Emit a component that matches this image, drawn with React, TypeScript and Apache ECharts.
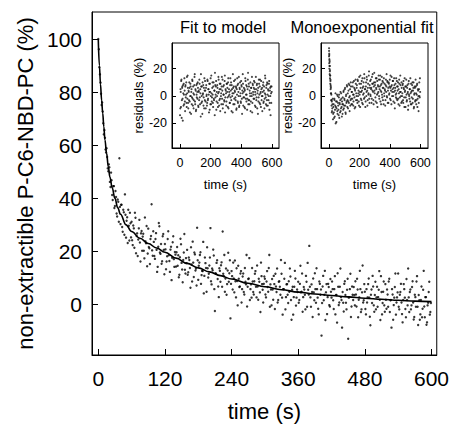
import React, { useEffect, useRef } from "react";
import * as echarts from "echarts";

// ---- tick labels ----
const MAIN_X_TICKS = [0, 120, 240, 360, 480, 600];
const MAIN_Y_TICKS = [0, 20, 40, 60, 80, 100];
const INSET_X_TICKS = [0, 200, 400, 600];
const INSET_Y_TICKS = [-20, 0, 20];

// ---- fitted curve ----
const FIT_T = [0, 2, 4, 6, 8, 10, 12, 15, 18, 21, 25, 30, 35, 40, 50, 60, 75, 90, 105, 120, 140, 160, 180, 200, 220, 240, 270, 300, 330, 360, 390, 420, 450, 480, 510, 540, 570, 600];
const FIT_V = [100, 90, 83, 77, 72, 67, 62, 57, 52, 48, 44, 40, 36.5, 34, 30, 27.5, 25, 23, 21.3, 19.7, 17.5, 15.5, 13.8, 12.3, 10.9, 9.6, 8, 6.7, 5.6, 4.7, 4, 3.4, 2.9, 2.4, 2, 1.6, 1.3, 1.1];

// ---- measured points, sampled every 2 s (even seconds, then odd seconds) ----
const MAIN_DT = 2;
const MAIN_EVEN = [
  100, 89.4, 83.6, 75.2, 72.7, 64.1, 62.8, 57.3, 55.6, 50.2,
  51.7, 44.3, 46.8, 39.4, 44.6, 37.1, 40.5, 33.2, 38.7, 55.1,
  30.3, 37.6, 27.4, 34.8, 41.5, 25.2, 32.9, 35.7, 24.1, 30.6,
  31.2, 22.4, 28.7, 34.6, 19.3, 26.8, 24.5, 31.9, 16.2, 27.7,
  25.6, 20.3, 32.8, 23.1, 14.4, 28.6, 21.2, 24.7, 37.8, 18.4,
  23.6, 17.2, 26.9, 12.3, 21.8, 29.5, 19.1, 15.4, 25.7, 20.6,
  22.8, 13.3, 18.2, 27.6, 16.4, 20.7, 9.2, 23.5, 17.1, 19.8,
  14.3, 21.7, 18.6, 11.2, 24.8, 15.7, 8.4, 19.6, 13.1, 17.5,
  20.6, 12.2, 16.8, 6.3, 15.1, 23.7, 10.4, 18.9, 13.6, 28.9,
  9.3, 15.8, 19.7, 11.1, 12.6, 4.2, 17.7, 13.8, 21.6, 10.2,
  14.7, 28.8, 7.6, 12.9, 18.5, -2.4, 11.6, 16.7, 6.8, 13.7,
  8.6, 15.9, 27.5, 10.7, 4.8, 13.6, 7.7, 19.5, 11.8, -5.2,
  12.6, 5.7, 9.8, 16.6, 2.7, 8.9, 14.6, 6.6, 11.7, 0.8,
  10.6, 4.7, 13.8, 7.6, -0.7, 9.6, 17.5, 5.8, 2.6, 8.7,
  3.8, 11.6, 6.7, 14.7, 1.8, 8.6, -2.8, 10.7, 5.6, 7.8,
  9.7, 2.7, 12.6, 4.8, 18.7, 7.6, -0.3, 5.7, 10.8, -1.7,
  6.8, 13.6, 1.7, 8.8, 3.7, 11.6, -3.8, 5.8, 15.7, 2.8,
  7.7, 0.6, 4.8, 10.6, -5.7, 6.7, 2.8, 12.7, -0.4, 5.7,
  8.6, 1.7, 14.6, 4.8, -2.7, 6.6, 3.7, 10.8, -0.8, 5.6,
  22.1, 2.7, 7.6, -4.7, 4.6, 11.8, 0.7, 5.8, -1.6, 8.7,
  3.7, -11.7, 6.8, 1.6, 12.7, 4.6, -3.6, 7.8, -0.2, 9.6,
  2.6, 5.8, -1.7, 10.7, 3.6, -6.8, 6.7, 0.8, 13.6, 1.7,
  4.7, -2.6, 8.8, 0.7, 5.6, -12.9, 2.8, 11.6, -0.7, 3.7,
  6.6, -0.3, 3.8, 9.7, -4.8, 2.7, 5.8, -1.8, 14.7, 1.6,
  4.8, -3.7, 0.8, 7.7, 2.6, -7.8, 5.7, 10.8, -0.3, 3.6,
  -1.8, 6.7, 2.8, 12.6, -5.8, 4.7, 0.6, 8.7, -2.7, 1.8,
  5.7, -0.8, 9.7, 1.6, -8.7, 3.8, -0.2, 6.6, -3.8, 2.7,
  11.7, -1.8, 4.7, 0.8, -6.7, 7.7, 2.6, -4.8, 1.7, 13.6,
  -2.8, 5.7, -0.3, 8.8, -5.6, 3.7, -0.8, 10.7, -7.7, 1.6,
  -3.7, 6.8, -1.6, 12.7, -4.8, 2.8, -6.7, 0.7, 8.6, -2.8,
];
const MAIN_ODD = [
  96.2, 86.7, 79.4, 76.1, 68.3, 65.7, 58.4, 58.9, 51.3, 52.8,
  46.2, 49.7, 41.3, 44.6, 36.4, 42.8, 34.3, 39.6, 31.2, 36.8,
  37.6, 29.2, 35.7, 26.3, 33.8, 31.6, 23.2, 29.7, 34.6, 25.3,
  24.2, 29.8, 21.4, 32.7, 25.8, 18.3, 28.7, 23.4, 26.8, 20.3,
  26.7, 17.4, 23.8, 29.6, 19.2, 21.7, 15.3, 25.8, 20.4, 27.6,
  18.3, 24.7, 20.6, 14.2, 30.7, 19.6, 22.8, 16.3, 26.6, 11.4,
  20.8, 16.2, 24.7, 18.6, 12.3, 21.8, 17.6, 25.7, 14.2, 18.8,
  19.7, 14.6, 10.3, 17.8, 22.7, 13.2, 16.8, 26.6, 11.7, 15.6,
  11.2, 17.7, 13.8, 21.6, 8.7, 15.8, 19.6, 12.8, 7.2, 16.7,
  14.6, 18.7, 7.8, 12.7, 23.6, 10.8, 15.6, 4.8, 13.7, 11.6,
  17.7, 8.8, 13.6, 20.7, 5.8, 11.8, 15.7, 9.6, 2.8, 12.7,
  14.8, 6.7, 11.6, 18.7, 9.8, 3.7, 12.8, 8.6, 16.7, 7.8,
  10.7, 15.8, 4.6, 8.8, 13.7, -0.3, 9.7, 6.8, 12.6, 5.8,
  11.7, 3.8, 8.6, 18.7, 6.7, 9.8, 1.7, 7.6, 13.8, 4.7,
  8.8, 12.6, 2.7, 6.8, 9.7, 4.6, 15.8, 7.7, 0.8, 10.6,
  3.8, 8.7, 6.6, 13.8, -0.8, 5.7, 9.6, 1.8, 7.7, 11.6,
  4.7, 0.8, 8.6, 6.7, 16.8, 2.6, 5.8, 9.7, -1.8, 7.6,
  3.7, 8.8, 13.6, 1.7, 5.6, -3.8, 6.7, 9.8, 2.6, 4.7,
  0.7, 7.8, 4.6, 11.7, 2.8, 5.7, -1.8, 8.6, 15.7, 3.8,
  6.7, -0.8, 4.7, 9.8, 1.6, 5.8, 13.7, 2.6, -3.7, 7.8,
  5.7, 0.6, 10.8, 3.7, -5.8, 7.7, 2.8, 6.6, -0.7, 4.8,
  8.7, 1.6, 5.8, -3.7, 3.6, 11.8, -0.2, 6.7, 2.8, -8.7,
  0.7, 7.8, 3.6, -1.8, 9.7, 2.6, 5.8, -4.7, 6.8, 1.7,
  3.6, 8.8, -0.7, 5.7, 1.8, 12.7, -2.8, 4.6, 0.8, 7.7,
  -1.7, 5.8, 2.7, 9.8, -4.6, 3.7, 0.6, 6.8, -2.7, 8.6,
  2.7, -0.8, 5.6, 1.8, 10.7, -3.7, 4.8, -0.3, 7.7, -1.6,
  3.8, 8.7, -2.8, 1.7, 5.8, -5.7, 2.6, 11.7, 0.8, 4.6,
  -0.8, 3.7, 7.8, -3.6, 1.7, 5.8, -1.7, 9.6, -0.3, 2.7,
  4.7, -1.8, 6.6, 0.8, -4.7, 2.8, 8.7, -0.8, 3.6, -5.7,
  1.7, -4.8, 5.6, -0.7, 2.8, -7.6, -0.3, 4.7, -3.8, 0.6,
];

// ---- residuals (insets), sampled every 3 s: set A at 0,3,6..., set B at 1.5,4.5,... ----
const INSET_DT = 3;
const MODEL_RESID = [
  -14, 5, -8, 12, -3, 7, -18, 2, 9, -6,
  4, -11, 8, 1, -5, 14, -2, 6, -9, 3,
  10, -4, 0, 7, -13, 5, -1, 11, -7, 2,
  -3, 8, 16, -6, 4, -10, 1, 9, -2, 6,
  -8, 3, 12, -1, 5, -15, 7, 0, -4, 10,
  2, -7, 6, 13, -3, 4, -9, 8, 1, -5,
  11, -2, 5, -12, 3, 9, -6, 0, 15, -4,
  6, 1, -8, 10, -3, 4, 17, -1, 7, -10,
  3, 8, -5, 2, 12, -7, 5, -2, 9, 0,
  -6, 14, 4, -9, 7, 1, -3, 11, -12, 5,
  2, -4, 9, 6, -8, 13, 0, 3, -5, 8,
  -1, 10, -11, 5, 2, 16, -6, 7, -2, 4,
  12, -3, 6, -9, 1, 8, -5, 3, 14, -7,
  5, 0, -4, 11, 7, -13, 2, 9, -1, 6,
  -8, 4, 13, -2, 8, 1, -10, 5, 17, -3,
  7, -6, 2, 10, -4, 6, 0, -12, 9, 3,
  -2, 11, 5, -7, 1, 14, -3, 8, -9, 4,
  6, -1, 9, -5, 12, 2, -8, 5, 0, -11,
  3, 10, -4, 7, -2, 15, 1, -6, 8, -3,
  9, -7, 4, 0, 11, -5, 6, -14, 2, 7,
];
const MODEL_RESID_B = [
  -9, 3, 11, -16, 6, -2, 8, -7, 1, 13,
  -4, 7, -1, 10, -8, 2, 15, -5, 4, -3,
  6, -12, 9, 0, 3, -6, 12, -2, 7, -9,
  1, 14, -4, 5, -11, 8, -1, 3, 10, -7,
  4, -3, 9, -6, 2, 16, -5, 7, -13, 1,
  8, -1, -9, 4, 11, -4, 6, 0, -7, 12,
  -3, 5, 1, 9, -10, 3, 13, -6, 2, -1,
  10, -5, 7, -2, 4, -14, 8, 1, 11, -4,
  0, 6, -8, 14, 3, -3, 9, -11, 5, 2,
  7, -2, 12, -6, 1, 8, -4, 15, -1, 4,
  -7, 9, 3, -1, 10, -9, 5, 1, -5, 13,
  4, -3, 8, 0, -12, 6, 2, 11, -6, 3,
  -1, 7, -10, 5, 13, -4, 9, 0, -8, 6,
  10, 2, -5, 8, -2, 4, 16, -7, 3, -1,
  5, -9, 11, 1, -4, 7, -2, 12, -6, 9,
  -3, 4, 0, -11, 6, 2, 14, -5, 8, 1,
  6, -2, 10, 3, -8, 5, -1, 9, 2, -13,
  -4, 12, 1, 7, -6, 3, 11, -3, 6, 0,
  8, -5, 4, -9, 2, 13, -1, 6, -7, 10,
  1, 5, -3, 9, -10, 4, 0, 7, -5, 3,
];
const MONO_RESID = [
  33, 26, 19, 12, 6, 1, -4, -9, -2, -13,
  -6, -16, -3, -10, 2, -8, -19, -4, -11, 0,
  -7, -14, 1, -5, -12, 3, -9, -2, -15, -6,
  -1, -10, 4, -7, -3, 6, -12, 0, -5, 8,
  -8, 2, -4, 9, -1, -11, 5, -3, 7, -6,
  3, -2, 10, -7, 1, 6, -9, 4, 12, -3,
  0, 8, -5, 11, 2, -4, 14, 1, -8, 6,
  9, -3, 4, 13, -6, 7, 2, 16, -1, 5,
  -4, 10, 3, 12, -7, 6, 1, 15, -2, 8,
  11, 0, 5, -5, 14, 4, 9, -3, 7, 17,
  2, 10, -4, 6, 13, 1, -8, 8, 3, 12,
  -2, 7, 15, 4, -6, 9, 1, 11, -3, 6,
  13, 0, 5, -7, 8, 3, 16, -1, 10, 4,
  -5, 9, 2, 12, 6, -3, 7, 14, 0, 5,
  11, -4, 3, 8, -9, 6, 1, 13, -2, 7,
  4, 10, -6, 2, 9, -1, 15, 3, -5, 6,
  0, 8, -3, 11, 5, -8, 3, 7, -1, 12,
  -4, 6, 2, -10, 9, 1, -2, 5, 13, -6,
  3, -1, 8, -5, 4, 10, -8, 2, 6, -3,
  7, -6, 1, 9, -2, 4, -11, 5, 0, 13,
];
const MONO_RESID_B = [
  30, 22, 15, 8, 2, -3, -11, -6, -17, -8,
  -12, -2, -15, -7, -20, -4, -9, 1, -13, -5,
  -10, -1, -16, -6, -3, -11, 2, -8, -4, -13,
  -6, 3, -9, -2, 5, -7, -13, 1, -4, 7,
  -3, -9, 4, -5, 8, 0, -7, 10, -2, 3,
  -6, 7, 1, -4, 11, -1, 5, -8, 9, 2,
  6, -3, 12, 0, 4, -7, 9, 3, 15, -2,
  3, 11, -5, 6, 1, 10, -2, 13, 5, -8,
  7, 0, 14, 4, -3, 9, 2, 18, -5, 6,
  1, 12, 6, -2, 9, 16, 3, -6, 10, 4,
  8, -1, 13, 5, -5, 11, 2, 7, 15, 0,
  5, 12, -4, 8, 3, 14, -1, 6, 10, -6,
  2, 9, 4, -3, 12, 7, 0, 11, -5, 6,
  10, 1, 7, -2, 15, 4, -6, 8, 3, 11,
  0, 6, 13, -5, 4, 9, -1, 2, 11, -3,
  7, -2, 5, 12, -7, 3, 8, 0, 10, -4,
  2, 9, -5, 6, -1, 13, 4, -8, 7, 1,
  -3, 8, 3, -7, 11, 0, 5, -4, 2, 9,
  -6, 4, 10, -2, 6, -9, 1, 7, -4, 12,
  2, -3, 8, -8, 5, 0, -5, 10, -1, 3,
];
// early spike of the monoexponential residuals
const SPIKE_T = [0, 0, 1, 1, 2, 2, 3, 4, 4, 5, 6, 7, 8, 9, 10, 11, 12, 14, 16, 18];
const SPIKE_V = [35, 29, 31, 24, 27, 20, 22, 25, 16, 18, 13, 15, 9, 11, 5, 7, 2, -3, -7, -12];

const FONT = "Liberation Sans, Arial, Helvetica, sans-serif";

export default function App() {
  const ref = useRef<HTMLDivElement>(null);
  useEffect(() => {
    if (!ref.current) return;
    const chart = echarts.init(ref.current, undefined, { renderer: "svg" });

    const mainPts = [
      ...MAIN_EVEN.map((v, i) => [i * MAIN_DT, v]),
      ...MAIN_ODD.map((v, i) => [1 + i * MAIN_DT, v]),
    ];
    const fitPts = FIT_T.map((t, i) => [t, FIT_V[i]]);
    const modelPts = [
      ...MODEL_RESID.map((v, i) => [i * INSET_DT, v]),
      ...MODEL_RESID_B.map((v, i) => [1.5 + i * INSET_DT, v]),
    ];
    const monoPts = [
      ...MONO_RESID.map((v, i) => [i * INSET_DT, v]),
      ...MONO_RESID_B.map((v, i) => [1.5 + i * INSET_DT, v]),
      ...SPIKE_T.map((t, i) => [t, SPIKE_V[i]]),
    ];

    const black = "#000";
    const gridBox = { show: true, borderColor: black, borderWidth: 1, backgroundColor: "#fff" };

    const insetX = (gi: number, min: number, max: number) => ({
      gridIndex: gi,
      type: "value",
      min,
      max,
      axisLine: { onZero: false, lineStyle: { color: black, width: 1 } },
      axisTick: { inside: true, length: 4, customValues: INSET_X_TICKS, lineStyle: { color: black } },
      axisLabel: { customValues: INSET_X_TICKS, fontSize: 12.5, color: black, margin: 8, fontFamily: FONT },
      splitLine: { show: false },
      name: "time (s)",
      nameLocation: "middle",
      nameGap: 30,
      nameTextStyle: { fontSize: 13, color: black, fontFamily: FONT },
    });
    const insetY = (gi: number) => ({
      gridIndex: gi,
      type: "value",
      min: -38,
      max: 38.8,
      axisLine: { onZero: false, lineStyle: { color: black, width: 1 } },
      axisTick: { inside: true, length: 4, customValues: INSET_Y_TICKS, lineStyle: { color: black } },
      axisLabel: { customValues: INSET_Y_TICKS, fontSize: 12.5, color: black, margin: 5, fontFamily: FONT },
      splitLine: { show: false },
      name: "residuals (%)",
      nameLocation: "middle",
      nameGap: 27,
      nameTextStyle: { fontSize: 13, color: black, fontFamily: FONT },
    });

    chart.setOption({
      animation: false,
      backgroundColor: "#fff",
      grid: [
        { left: 92, top: 12, width: 345, height: 346, show: true, borderColor: black, borderWidth: 1 },
        { left: 172, top: 43, width: 107, height: 105, ...gridBox },
        { left: 321, top: 43, width: 107, height: 105, ...gridBox },
      ],
      xAxis: [
        {
          gridIndex: 0,
          type: "value",
          min: -11.3,
          max: 609.5,
          axisLine: { onZero: false, lineStyle: { color: black, width: 1 } },
          axisTick: { inside: true, length: 6, customValues: MAIN_X_TICKS, lineStyle: { color: black } },
          axisLabel: { customValues: MAIN_X_TICKS, fontSize: 21, color: black, margin: 13, fontFamily: FONT },
          splitLine: { show: false },
          name: "time (s)",
          nameLocation: "middle",
          nameGap: 45,
          nameTextStyle: { fontSize: 22, color: black, fontFamily: FONT },
        },
        insetX(1, -52.5, 646),
        insetX(2, -53, 650),
      ],
      yAxis: [
        {
          gridIndex: 0,
          type: "value",
          min: -19,
          max: 110.2,
          axisLine: { onZero: false, lineStyle: { color: black, width: 1 } },
          axisTick: { inside: true, length: 6, customValues: MAIN_Y_TICKS, lineStyle: { color: black } },
          axisLabel: { customValues: MAIN_Y_TICKS, fontSize: 21, color: black, margin: 10, fontFamily: FONT },
          splitLine: { show: false },
          name: "non-extractible P-C6-NBD-PC (%)",
          nameLocation: "middle",
          nameGap: 56,
          nameTextStyle: { fontSize: 22, color: black, fontFamily: FONT },
        },
        insetY(1),
        insetY(2),
      ],
      graphic: [
        {
          type: "text",
          x: 223,
          y: 27,
          style: { text: "Fit to model", fontSize: 16.5, fontFamily: FONT, fill: black, align: "center", verticalAlign: "middle" },
        },
        {
          type: "text",
          x: 362,
          y: 27,
          style: { text: "Monoexponential fit", fontSize: 16.5, fontFamily: FONT, fill: black, align: "center", verticalAlign: "middle" },
        },
      ],
      series: [
        {
          type: "scatter",
          xAxisIndex: 0,
          yAxisIndex: 0,
          data: mainPts,
          symbolSize: 2.4,
          itemStyle: { color: black },
          z: 2,
        },
        {
          type: "line",
          xAxisIndex: 0,
          yAxisIndex: 0,
          data: fitPts,
          showSymbol: false,
          symbol: "none",
          smooth: 0.4,
          smoothMonotone: "x",
          lineStyle: { color: black, width: 1.6 },
          z: 3,
        },
        {
          type: "scatter",
          xAxisIndex: 1,
          yAxisIndex: 1,
          data: modelPts,
          symbolSize: 2.1,
          itemStyle: { color: "#111" },
          z: 4,
        },
        {
          type: "scatter",
          xAxisIndex: 2,
          yAxisIndex: 2,
          data: monoPts,
          symbolSize: 2.1,
          itemStyle: { color: "#111" },
          z: 4,
        },
      ],
    });
    return () => chart.dispose();
  }, []);
  return (
    <div
      ref={ref}
      style={{ position: "fixed", left: 0, top: 0, width: 452, height: 427 }}
    />
  );
}
